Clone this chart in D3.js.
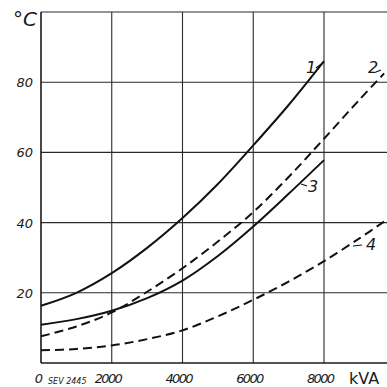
<!DOCTYPE html>
<html>
<head>
<meta charset="utf-8">
<script src="https://cdn.jsdelivr.net/npm/d3@7"></script>
<style>
  body { margin: 0; background: #fff; }
  text { font-family: "DejaVu Sans", sans-serif; fill: #1a1a1a; }
</style>
</head>
<body>
<div id="chart"></div>
<script>
// load (kVA) and temperature (°C)
var kva = [0, 1000, 2000, 3000, 4000, 5000, 6000, 7000, 8000];
var kvaLong = [0, 1000, 2000, 3000, 4000, 5000, 6000, 7000, 8000, 9000, 9700];

var curve1 = [16.3, 20, 25.6, 32.8, 41.3, 51, 62, 73.5, 86];
var curve3 = [10.9, 12.5, 14.9, 18.5, 23.5, 30.5, 38.9, 48.2, 57.8];
var curve2 = [7.6, 10.4, 14.4, 20.3, 27.0, 34.6, 43, 53, 63.9, 75, 82.5];
var curve4 = [3.6, 4.0, 5.0, 6.8, 9.3, 13.3, 18, 23.2, 29, 35.5, 40.3];

var xTicks = [2000, 4000, 6000, 8000];
var yTicks = [20, 40, 60, 80];

var width = 387,
    height = 387;

var x = d3.scaleLinear().domain([0, 8000]).range([41, 324]);
var y = d3.scaleLinear().domain([0, 100]).range([363, 12]);

var svg = d3.select("#chart").append("svg")
    .attr("width", width)
    .attr("height", height);

// grid
var grid = svg.append("g")
    .attr("stroke", "#2a2a2a")
    .attr("stroke-width", 1.1);

grid.selectAll(".vline")
    .data(xTicks)
  .enter().append("line")
    .attr("class", "vline")
    .attr("x1", function(d) { return x(d); })
    .attr("x2", function(d) { return x(d); })
    .attr("y1", y(100))
    .attr("y2", y(0));

grid.selectAll(".hline")
    .data(yTicks.concat([100]))
  .enter().append("line")
    .attr("class", "hline")
    .attr("x1", x(0))
    .attr("x2", width)
    .attr("y1", function(d) { return y(d); })
    .attr("y2", function(d) { return y(d); });

// axes frame
svg.append("line")
    .attr("x1", x(0)).attr("x2", x(0))
    .attr("y1", y(100)).attr("y2", y(0))
    .attr("stroke", "#1a1a1a").attr("stroke-width", 1.6);
svg.append("line")
    .attr("x1", x(0)).attr("x2", width)
    .attr("y1", y(0)).attr("y2", y(0))
    .attr("stroke", "#1a1a1a").attr("stroke-width", 1.6);

// tick labels
svg.selectAll(".ylab")
    .data(yTicks)
  .enter().append("text")
    .attr("class", "ylab")
    .attr("x", 33)
    .attr("y", function(d) { return y(d) + 5; })
    .attr("text-anchor", "end")
    .style("font-size", "13px")
    .style("font-style", "italic")
    .text(function(d) { return d; });

svg.selectAll(".xlab")
    .data([0].concat(xTicks))
  .enter().append("text")
    .attr("class", "xlab")
    .attr("x", function(d) { return d === 0 ? x(0) - 2 : x(d) - 3; })
    .attr("y", 383)
    .attr("text-anchor", "middle")
    .style("font-size", "13px")
    .style("font-style", "italic")
    .attr("textLength", function(d) { return d === 0 ? null : 28; })
    .text(function(d) { return d; });

svg.append("text")
    .attr("x", 48)
    .attr("y", 384)
    .style("font-size", "8px")
    .style("font-style", "italic")
    .text("SEV 2445");

svg.append("text")
    .attr("x", 349)
    .attr("y", 384)
    .style("font-size", "16px")
    .text("kVA");

svg.append("text")
    .attr("x", 13)
    .attr("y", 26)
    .style("font-size", "20px")
    .style("font-style", "italic")
    .text("°C");

// curves
var line = d3.line()
    .x(function(d) { return x(d[0]); })
    .y(function(d) { return y(d[1]); })
    .curve(d3.curveCatmullRom.alpha(0.5));

var series = [
  { xs: kva, ys: curve1, dash: null },
  { xs: kvaLong, ys: curve2, dash: "9,5" },
  { xs: kva, ys: curve3, dash: null },
  { xs: kvaLong, ys: curve4, dash: "9,5" }
];

svg.selectAll(".curve")
    .data(series)
  .enter().append("path")
    .attr("class", "curve")
    .attr("d", function(s) { return line(d3.zip(s.xs, s.ys)); })
    .attr("fill", "none")
    .attr("stroke", "#111")
    .attr("stroke-width", 2)
    .attr("stroke-dasharray", function(s) { return s.dash; });

// curve labels with little leader ticks
var labels = [
  { name: "1", lx: 306, ly: 73, t: [[316, 68], [324, 62]] },
  { name: "2", lx: 368, ly: 73, t: [[376, 72], [381, 70]] },
  { name: "3", lx: 308, ly: 192, t: [[307, 186], [301, 184]] },
  { name: "4", lx: 366, ly: 250, t: [[362, 245], [353, 246]] }
];

svg.selectAll(".clab")
    .data(labels)
  .enter().append("text")
    .attr("class", "clab")
    .attr("x", function(d) { return d.lx; })
    .attr("y", function(d) { return d.ly; })
    .style("font-size", "16px")
    .style("font-style", "italic")
    .text(function(d) { return d.name; });

svg.selectAll(".lead")
    .data(labels)
  .enter().append("line")
    .attr("class", "lead")
    .attr("x1", function(d) { return d.t[0][0]; })
    .attr("y1", function(d) { return d.t[0][1]; })
    .attr("x2", function(d) { return d.t[1][0]; })
    .attr("y2", function(d) { return d.t[1][1]; })
    .attr("stroke", "#111")
    .attr("stroke-width", 1.2);
</script>
</body>
</html>
